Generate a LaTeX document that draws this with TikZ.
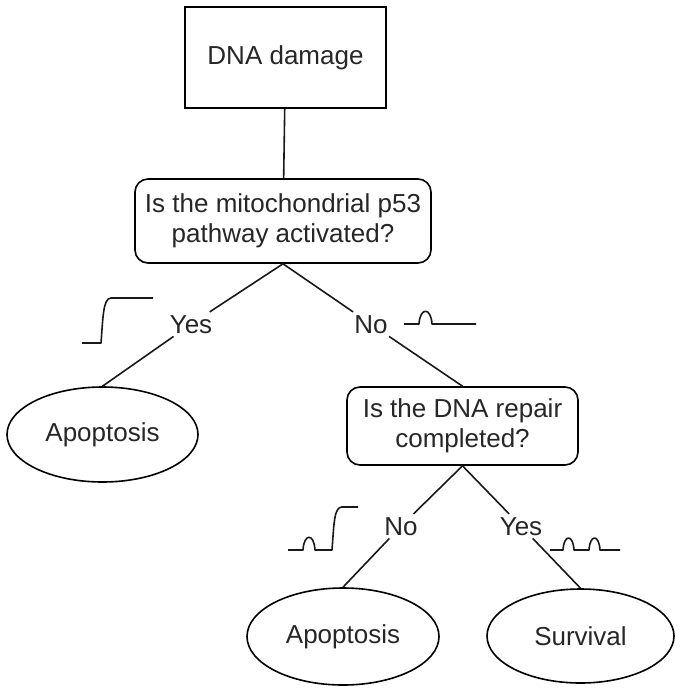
\documentclass[tikz,border=0pt]{standalone}
\usepackage{fontspec}
\setmainfont{Liberation Sans}
\usetikzlibrary{shapes.geometric}
\begin{document}
\begin{tikzpicture}[x=1pt,y=-1pt,
  every node/.style={font=\fontsize{26}{30}\selectfont, text=black!85},
  line/.style={line width=1.6pt, black!90},
  boxsq/.style={draw, line width=1.6pt, rectangle, inner sep=0pt},
  boxrd/.style={draw, line width=1.6pt, rectangle, rounded corners=13pt, inner sep=0pt, align=center},
  oval/.style={draw, line width=1.6pt, ellipse, inner sep=0pt},
  lbl/.style={inner xsep=4pt, inner ysep=3pt, anchor=base},
  wave/.style={line width=1.6pt, black!90, line join=round}]
\useasboundingbox (0,0) rectangle (684,693);

\node[boxsq, minimum width=201pt, minimum height=101pt] (dna) at (285.5,57.5) {DNA damage};
\node[boxrd, minimum width=296pt, minimum height=84pt] (q1) at (283,221) {Is the mitochondrial p53\\pathway activated?};
\node[boxrd, minimum width=231pt, minimum height=78pt] (q2) at (462.5,426) {Is the DNA repair\\completed?};
\node[oval, minimum width=191pt, minimum height=95pt] (a1) at (102.5,434.5) {Apoptosis};
\node[oval, minimum width=192pt, minimum height=97pt] (a2) at (343,636.5) {Apoptosis};
\node[oval, minimum width=187pt, minimum height=94pt] (sv) at (580.5,636) {Survival};

\node[lbl] (yes1) at (191,333) {Yes};
\node[lbl] (no1) at (371,333) {No};
\node[lbl] (no2) at (401,535) {No};
\node[lbl] (yes2) at (521,535) {Yes};

\draw[line] (dna) -- (q1);
\draw[line] (q1.south) -- (yes1);
\draw[line] (yes1) -- (a1.north);
\draw[line] (q1.south) -- (no1);
\draw[line] (no1) -- (q2.north);
\draw[line] (q2.south) -- (no2);
\draw[line] (no2) -- (a2.north);
\draw[line] (q2.south) -- (yes2);
\draw[line] (yes2) -- (sv.north);

% waveforms
\draw[wave] (82,343) -- (101,343) .. controls (103,318) and (103,298) .. (111,298) -- (153,298);
\draw[wave] (404,324) -- (419,324) .. controls (420,307) and (431,307) .. (432,324) -- (476,324);
\draw[wave] (288,550) -- (303,550) .. controls (304,533) and (314,533) .. (315,550) -- (332,550)
  .. controls (334,524) and (334,507) .. (342,507) -- (358,507);
\draw[wave] (550,550) -- (563,550) .. controls (564,534) and (573,534) .. (574,550) -- (589,550)
  .. controls (590,534) and (599,534) .. (600,550) -- (620,550);
\end{tikzpicture}
\end{document}
